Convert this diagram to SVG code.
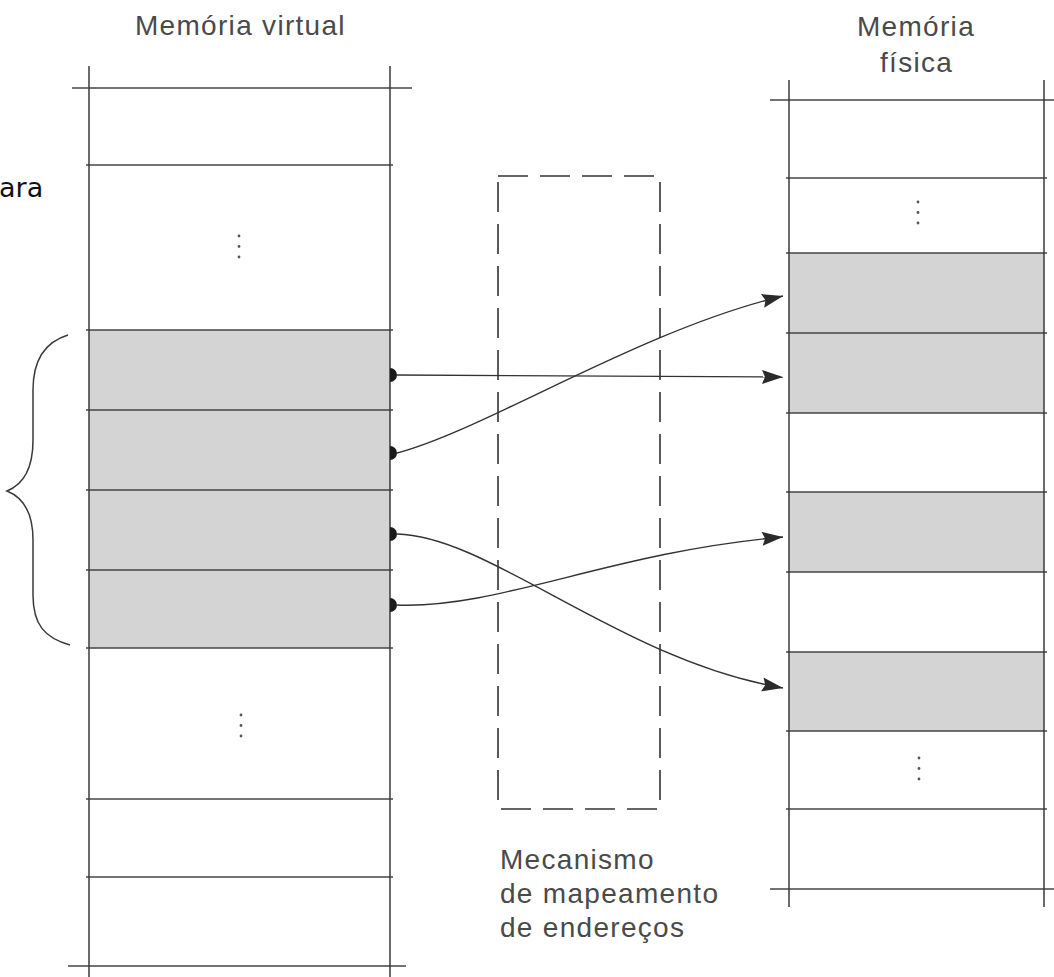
<svg xmlns="http://www.w3.org/2000/svg" width="1054" height="977" viewBox="0 0 1054 977">
  <style>
    .title { font-family: "Liberation Sans", Arial, sans-serif; font-size: 28px; fill: #4a4a4a; letter-spacing: 1.3px; }
    .side { font-family: "DejaVu Sans", Verdana, sans-serif; font-size: 27px; fill: #111; }
    .edge { stroke: #3a3a3a; stroke-width: 1.5; fill: none; }
    .rule { stroke: #444; stroke-width: 1.4; fill: none; }
    .page { fill: #d4d4d4; }
    .dot { fill: #555; }
    .pin { fill: #1a1a1a; }
    .link { stroke: #333; stroke-width: 1.4; fill: none; marker-end: url(#head); }
    .mapbox { stroke: #333; stroke-width: 1.6; fill: none; stroke-dasharray: 30 12; }
  </style>
  <defs>
    <marker id="head" markerUnits="userSpaceOnUse" viewBox="-22 -8 24 16" refX="0" refY="0" markerWidth="24" markerHeight="16" orient="auto">
      <path d="M0,0 L-21,-7 L-18,0 L-21,7 Z" fill="#2a2a2a"/>
    </marker>
  </defs>

  <rect width="1054" height="977" fill="#fff"/>

  <!-- cut-off side label -->
  <text class="side" x="-1" y="197">ara</text>

  <!-- virtual memory column -->
  <g id="virtual-memory">
    <text class="title" x="135" y="35">Memória virtual</text>
    <rect class="page" x="89" y="330" width="301" height="318"/>
    <line class="rule" x1="72" y1="88" x2="412" y2="88"/>
    <line class="rule" x1="86" y1="165" x2="393" y2="165"/>
    <line class="rule" x1="86" y1="330" x2="393" y2="330"/>
    <line class="rule" x1="86" y1="410" x2="393" y2="410"/>
    <line class="rule" x1="86" y1="490" x2="393" y2="490"/>
    <line class="rule" x1="86" y1="570" x2="393" y2="570"/>
    <line class="rule" x1="86" y1="648" x2="393" y2="648"/>
    <line class="rule" x1="86" y1="799" x2="393" y2="799"/>
    <line class="rule" x1="86" y1="877" x2="393" y2="877"/>
    <line class="rule" x1="68" y1="966" x2="406" y2="966"/>
    <line class="edge" x1="89" y1="66" x2="89" y2="977"/>
    <line class="edge" x1="390" y1="66" x2="390" y2="977"/>
    <circle class="dot" cx="239" cy="236" r="1.4"/>
    <circle class="dot" cx="239" cy="246.5" r="1.4"/>
    <circle class="dot" cx="239" cy="257" r="1.4"/>
    <circle class="dot" cx="241" cy="715" r="1.4"/>
    <circle class="dot" cx="241" cy="725.5" r="1.4"/>
    <circle class="dot" cx="241" cy="736" r="1.4"/>
  </g>

  <!-- brace grouping the mapped pages -->
  <g id="page-brace">
    <path class="edge" d="M68,335 C45,342 33,360 33,390 L33,440 C33,470 22,485 7,491 C22,497 33,512 33,540 L33,595 C33,625 45,638 70,645"/>
  </g>

  <!-- address mapping mechanism -->
  <g id="mapping-unit">
    <rect class="mapbox" x="498" y="176" width="162" height="633"/>
    <text class="title" x="500" y="869">Mecanismo</text>
    <text class="title" x="500" y="903">de mapeamento</text>
    <text class="title" x="500" y="937">de endereços</text>
  </g>

  <!-- physical memory column -->
  <g id="physical-memory">
    <text class="title" x="857" y="36">Memória</text>
    <text class="title" x="880" y="72">física</text>
    <rect class="page" x="789" y="253" width="255" height="160"/>
    <rect class="page" x="789" y="492" width="255" height="80"/>
    <rect class="page" x="789" y="652" width="255" height="79"/>
    <line class="rule" x1="770" y1="100" x2="1054" y2="100"/>
    <line class="rule" x1="786" y1="178" x2="1047" y2="178"/>
    <line class="rule" x1="786" y1="253" x2="1047" y2="253"/>
    <line class="rule" x1="786" y1="333" x2="1047" y2="333"/>
    <line class="rule" x1="786" y1="413" x2="1047" y2="413"/>
    <line class="rule" x1="786" y1="492" x2="1047" y2="492"/>
    <line class="rule" x1="786" y1="572" x2="1047" y2="572"/>
    <line class="rule" x1="786" y1="652" x2="1047" y2="652"/>
    <line class="rule" x1="786" y1="731" x2="1047" y2="731"/>
    <line class="rule" x1="786" y1="809" x2="1047" y2="809"/>
    <line class="rule" x1="770" y1="889" x2="1054" y2="889"/>
    <line class="edge" x1="789" y1="80" x2="789" y2="907"/>
    <line class="edge" x1="1044" y1="80" x2="1044" y2="907"/>
    <circle class="dot" cx="918" cy="202" r="1.4"/>
    <circle class="dot" cx="918" cy="212.5" r="1.4"/>
    <circle class="dot" cx="918" cy="223" r="1.4"/>
    <circle class="dot" cx="919" cy="758" r="1.4"/>
    <circle class="dot" cx="919" cy="768.5" r="1.4"/>
    <circle class="dot" cx="919" cy="779" r="1.4"/>
  </g>

  <!-- page mappings -->
  <g id="connectors">
    <path class="link" d="M397,375 L783,377"/>
    <path class="link" d="M397,453 C485,430 640,330 783,296"/>
    <path class="link" d="M397,534 C490,536 620,660 783,688"/>
    <path class="link" d="M397,605 C500,609 610,552 783,537"/>
    <path class="pin" d="M390,368 A7,7 0 0 1 390,382 Z"/>
    <path class="pin" d="M390,446 A7,7 0 0 1 390,460 Z"/>
    <path class="pin" d="M390,527 A7,7 0 0 1 390,541 Z"/>
    <path class="pin" d="M390,598 A7,7 0 0 1 390,612 Z"/>
  </g>
</svg>
